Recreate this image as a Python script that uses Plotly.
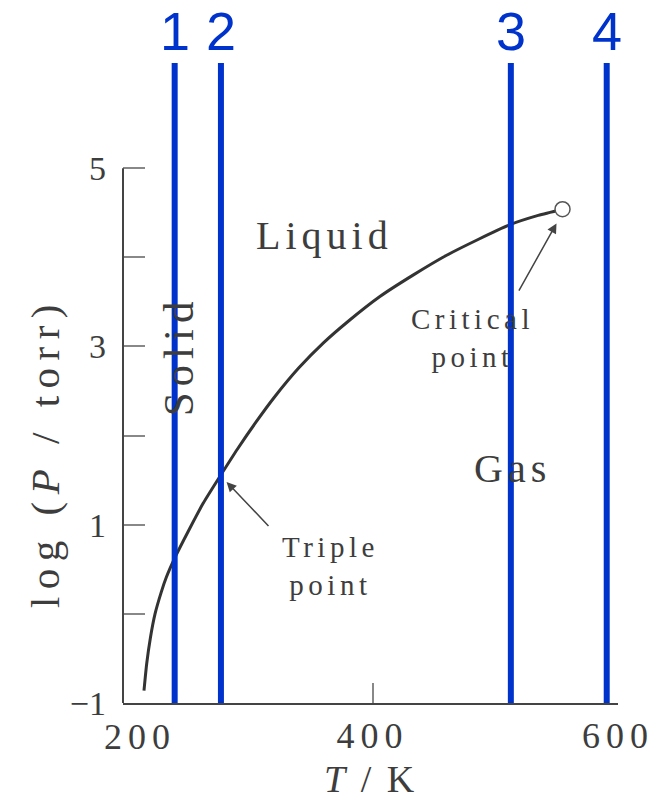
import plotly.graph_objects as go

# ---- data ----
curve_T = [213.8, 216.0, 219.0, 222.8, 228.0, 232.0, 238.8, 250.0, 262.0, 276.5, 290.0, 305.0,
           320.0, 340.0, 360.0, 380.0, 406.0, 433.0, 460.0, 486.0, 512.7, 535.0, 554.8]
curve_logP = [-0.86, -0.56, -0.27, 0.0, 0.25, 0.41, 0.625, 0.93, 1.24, 1.56, 1.85, 2.15,
              2.43, 2.76, 3.04, 3.28, 3.56, 3.80, 4.02, 4.20, 4.37, 4.47, 4.54]

critical_T = [554.8]
critical_logP = [4.54]

triple_T = 281.1
triple_logP = 1.48

line_T = [238.8, 276.5, 512.7, 590.8]
line_labels = ["1", "2", "3", "4"]

x_tickvals = [400, 600]
x_ticklabels = ["400", "600"]
y_tickvals = [-1, 0, 1, 2, 3, 4, 5]
y_ticklabels = ["−1", "", "1", "", "3", "", "5"]

X_RANGE = [196.7, 600]
Y_RANGE = [-1, 6.18]

SERIF = "Liberation Serif"
TXT = "#3d3d3d"
BLUE = "#0033cc"


def sp(s, px):
    return f'<span style="letter-spacing:{px}px">{s}</span>'


fig = go.Figure()

fig.add_trace(go.Scatter(
    x=curve_T, y=curve_logP, mode="lines",
    line=dict(color="#333333", width=3, shape="spline", smoothing=0.6),
    hoverinfo="skip", showlegend=False))

fig.add_trace(go.Scatter(
    x=critical_T, y=critical_logP, mode="markers",
    marker=dict(symbol="circle", size=15, color="white", line=dict(color="#555555", width=1.5)),
    hoverinfo="skip", showlegend=False))

# y axis line (only from -1 to 5)
fig.add_shape(type="line", xref="paper", yref="y", x0=0, x1=0, y0=-1, y1=5,
              line=dict(color="#444444", width=2), layer="above")

for t, lab in zip(line_T, line_labels):
    fig.add_shape(type="line", xref="x", yref="paper", x0=t, x1=t, y0=0, y1=1,
                  line=dict(color=BLUE, width=6), layer="above")
    fig.add_annotation(x=t, xref="x", y=1, yref="paper", yanchor="middle", yshift=32,
                       text=lab, showarrow=False,
                       font=dict(family="Liberation Sans", size=54, color=BLUE))

# region labels
fig.add_annotation(x=361.2, y=4.24, text=sp("Liquid", 5), showarrow=False,
                   font=dict(family=SERIF, size=40, color=TXT))
fig.add_annotation(x=514.3, y=1.635, text=sp("Gas", 5), showarrow=False,
                   font=dict(family=SERIF, size=40, color=TXT))
fig.add_annotation(x=241.5, y=2.90, text=sp("Solid", 6), showarrow=False, textangle=-90,
                   font=dict(family=SERIF, size=43, color=TXT))

# point labels and arrows
fig.add_annotation(x=366.1, y=0.535, text=sp("Triple", 4.5) + "<br>" + sp("point", 4.5), showarrow=False,
                   font=dict(family=SERIF, size=29, color=TXT))
fig.add_annotation(x=triple_T, y=triple_logP, ax=316.4, ay=0.97, axref="x", ayref="y",
                   text="", showarrow=True, arrowhead=2, arrowsize=1.3, arrowwidth=1.5,
                   arrowcolor="#444444")
fig.add_annotation(x=481.7, y=3.10, text=sp("Critical", 4.5) + "<br>" + sp("point", 4.5), showarrow=False,
                   font=dict(family=SERIF, size=29, color=TXT))
fig.add_annotation(x=549.9, y=4.38, ax=518.6, ay=3.61, axref="x", ayref="y",
                   text="", showarrow=True, arrowhead=2, arrowsize=1.3, arrowwidth=1.5,
                   arrowcolor="#444444")

# "200" tick label (offset in the original)
fig.add_annotation(x=200, y=0, xref="x", yref="paper", yanchor="top", xshift=13, yshift=-12,
                   text=sp("200", 6), showarrow=False,
                   font=dict(family=SERIF, size=36, color=TXT))

# axis titles
fig.add_annotation(x=0.5, y=-0.118, xref="paper", yref="paper", xanchor="center", yanchor="middle",
                   text=sp("<i>T</i> / K", 3), showarrow=False,
                   font=dict(family=SERIF, size=38, color=TXT))
fig.add_annotation(x=-0.1576, y=0.392, xref="paper", yref="paper", xanchor="center", yanchor="middle",
                   textangle=-90,
                   text=sp("log (<i>P</i> / torr)", 7.5), showarrow=False,
                   font=dict(family=SERIF, size=41, color=TXT))

fig.update_layout(
    width=658, height=799,
    margin=dict(l=123, r=40, t=63, b=96),
    paper_bgcolor="white", plot_bgcolor="white",
    showlegend=False,
    xaxis=dict(range=X_RANGE, showgrid=False, zeroline=False, automargin=False,
               showline=True, linecolor="#444444", linewidth=2,
               ticks="inside", ticklen=20, tickwidth=1.5, tickcolor="#888888",
               tickvals=x_tickvals, ticktext=[sp(s, 6) for s in x_ticklabels],
               tickfont=dict(family=SERIF, size=36, color=TXT)),
    yaxis=dict(range=Y_RANGE, showgrid=False, zeroline=False, showline=False, automargin=False,
               ticks="inside", ticklen=22, tickwidth=2, tickcolor="#888888",
               ticklabelstandoff=16,
               tickvals=y_tickvals, ticktext=y_ticklabels,
               tickfont=dict(family=SERIF, size=34, color=TXT)),
)

fig.write_html("out.html")
